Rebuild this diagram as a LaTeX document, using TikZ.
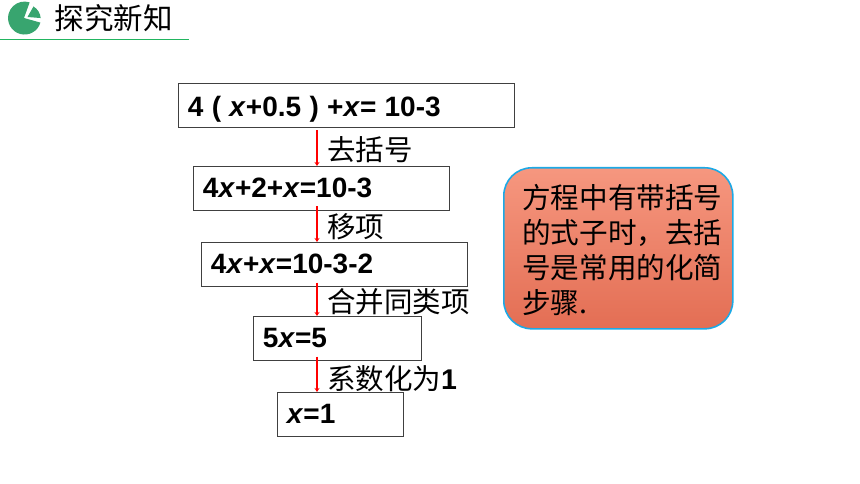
\documentclass[tikz,border=0pt]{standalone}
\usepackage{fontspec}
\usetikzlibrary{arrows.meta}
\setmainfont{Liberation Sans}
\newfontfamily\cjk{Noto Sans CJK SC}
\definecolor{headgreen}{HTML}{38A56F}
\definecolor{rulegreen}{HTML}{22B560}
\definecolor{tipblue}{HTML}{1CA9E6}
\definecolor{tiptop}{HTML}{F6977F}
\definecolor{tipbottom}{HTML}{E36E54}
\newcommand{\gap}{\hspace{8.3pt}}
\tikzset{
	eqbox/.style={draw=black!75,line width=0.9pt,anchor=north west,align=left,inner xsep=9.5pt,inner ysep=0pt,minimum height=43.6pt,font=\fontsize{28}{28}\selectfont\bfseries},
	steparrow/.style={draw=red,line width=2.2pt,-{Stealth[length=4pt,width=5pt]}},
	steptext/.style={anchor=west,inner sep=0pt,font=\fontsize{28.5}{28.5}\selectfont\cjk}
}
\begin{document}
\begin{tikzpicture}[x=1pt,y=-1pt]
	\useasboundingbox (0,0) rectangle (860,484);
	\fill[white] (0,0) rectangle (860,484);
	
	% heading
	\fill[headgreen] (24,18) -- (40.4,22.6) arc(16:288:16.5) -- cycle;
	\fill[headgreen] (27.5,17) -- (33.5,6.5) arc(-59:-5:15) -- cycle;
	\draw[rulegreen,line width=1.3pt] (0,39.5) -- (189,39.5);
	\node[anchor=west,inner sep=0pt,font=\fontsize{29.5}{29.5}\selectfont\cjk] (head) at (54.5,18) {探究新知};
	
	% equations
	\node[eqbox,minimum width=335.6pt,text width=316.6pt] (eqa) at (178,83) {\rule{0pt}{27.5pt}4\gap(\gap\textit{x}+0.5\gap)\gap+\textit{x}=\gap10-3};
	\node[eqbox,minimum width=255.6pt,text width=236.6pt] (eqb) at (193,166) {4\textit{x}+2+\textit{x}=10-3};
	\node[eqbox,minimum width=265.6pt,text width=246.6pt] (eqc) at (201,242) {4\textit{x}+\textit{x}=10-3-2};
	\node[eqbox,minimum width=167.6pt,text width=148.6pt] (eqd) at (253,316) {5\textit{x}=5};
	\node[eqbox,minimum width=125.6pt,text width=106.6pt] (eqe) at (277,392) {\textit{x}=1};
	
	% arrows
	\coordinate (axis) at (317,0);
	\draw[steparrow,shorten <=3pt] (eqa.south -| axis) -- (eqb.north -| axis);
	\draw[steparrow,shorten <=-4pt] (eqb.south -| axis) -- (eqc.north -| axis);
	\draw[steparrow,shorten <=-4pt] (eqc.south -| axis) -- (eqd.north -| axis);
	\draw[steparrow,shorten <=-4pt] (eqd.south -| axis) -- (eqe.north -| axis);
	
	\node[steptext] (opa) at (327,150) {去括号};
	\node[steptext] (opb) at (327,227) {移项};
	\node[steptext] (opc) at (327,302) {合并同类项};
	\node[steptext] (opd) at (327,379) {系数化为{\rmfamily\bfseries 1}};
	
	% note
	\node[draw=tipblue,line width=1.6pt,rounded corners=28pt,top color=tiptop,bottom color=tipbottom,minimum width=229pt,minimum height=161pt,anchor=north west] (tip) at (503,167) {};
	\node[anchor=north west,inner sep=0pt,align=left,font=\fontsize{28.6}{35}\selectfont\cjk] (tiptext) at (522,184) {方程中有带括号\\的式子时，去括\\号是常用的化简\\步骤.};
\end{tikzpicture}
\end{document}
